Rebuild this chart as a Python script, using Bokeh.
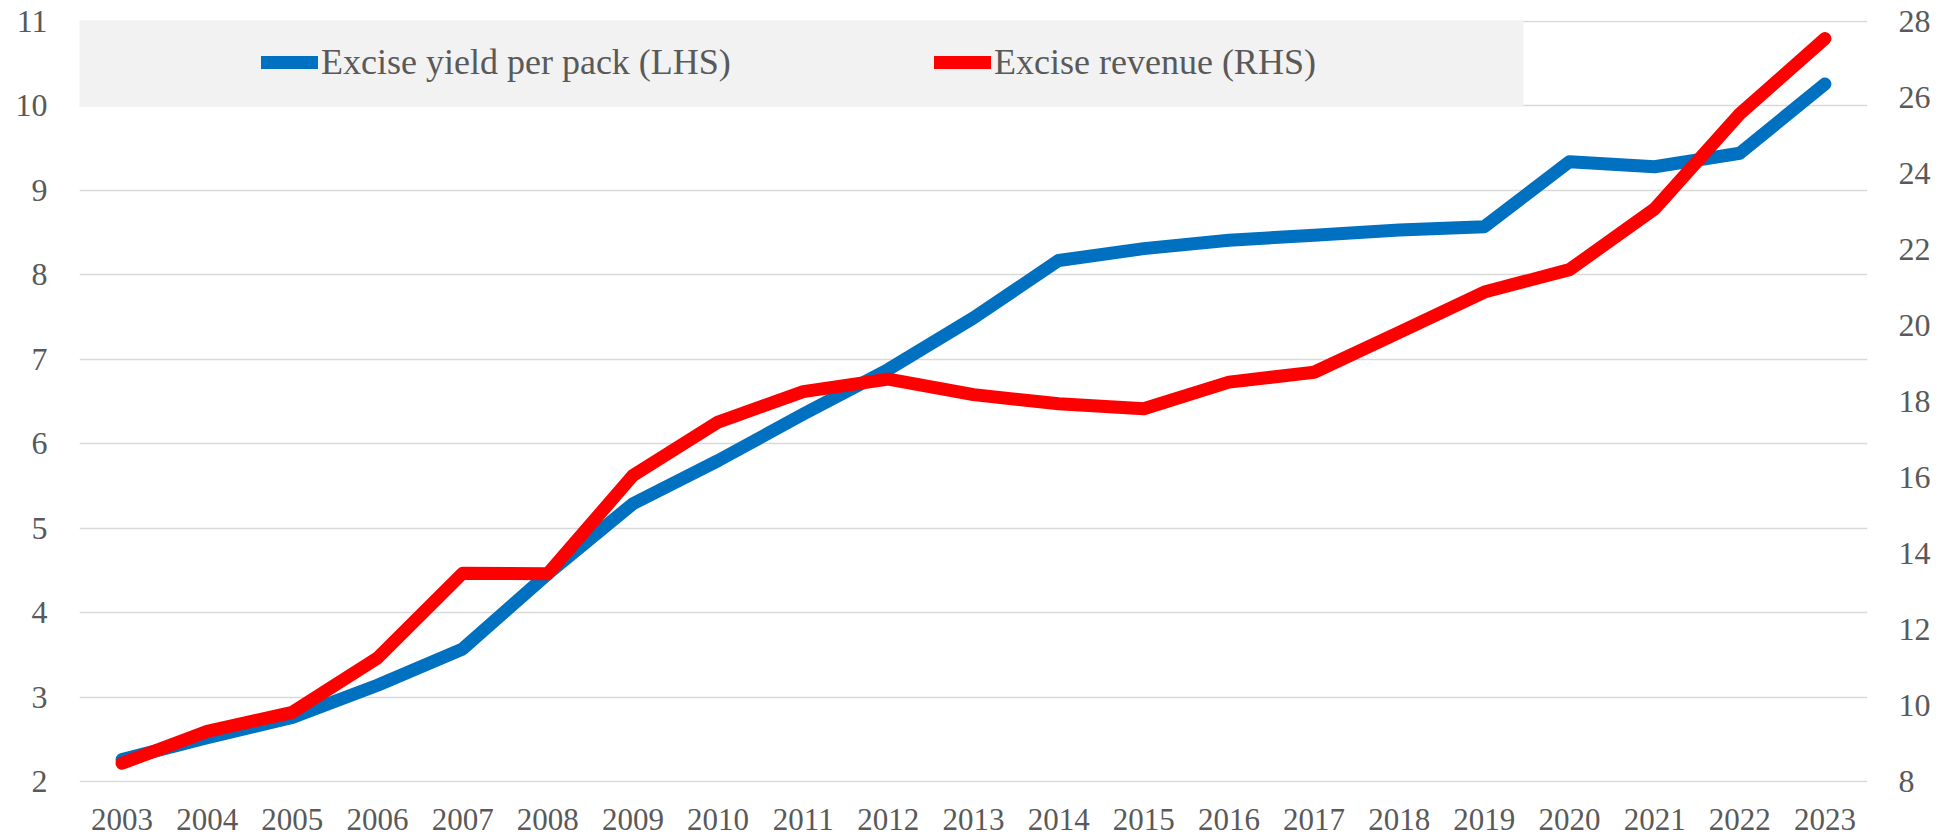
from bokeh.plotting import figure
from bokeh.models import (FactorRange, Range1d, LinearAxis, FixedTicker, Legend,
                          LegendItem, BoxAnnotation, ColumnDataSource)
from bokeh.embed import file_html
from bokeh.resources import INLINE

years = ["2003", "2004", "2005", "2006", "2007", "2008", "2009", "2010", "2011",
         "2012", "2013", "2014", "2015", "2016", "2017", "2018", "2019", "2020",
         "2021", "2022", "2023"]
yield_per_pack = [2.26, 2.52, 2.76, 3.14, 3.57, 4.46, 5.29, 5.80, 6.35, 6.88, 7.49,
                  8.17, 8.31, 8.41, 8.47, 8.53, 8.57, 9.34, 9.28, 9.44, 10.26]
excise_revenue = [8.48, 9.32, 9.82, 11.25, 13.48, 13.47, 16.05, 17.46, 18.26, 18.59,
                  18.18, 17.94, 17.81, 18.51, 18.77, 19.82, 20.88, 21.47, 23.07,
                  25.57, 27.55]
left_ticks = [2, 3, 4, 5, 6, 7, 8, 9, 10, 11]
right_ticks = [8, 10, 12, 14, 16, 18, 20, 22, 24, 26, 28]
labels = ["Excise yield per pack (LHS)", "Excise revenue (RHS)"]

FONT = "Liberation Serif"
TXT = "#595959"
GRID = "#d9d9d9"

# one extra pixel above and below the outer gridlines so they are not clipped
PX_L = 1.0 / 84.44
PX_R = 1.0 / 38.0

src = ColumnDataSource(dict(year=years, yld=yield_per_pack, rev=excise_revenue))

p = figure(width=1952, height=835, x_range=FactorRange(*years),
           y_range=Range1d(left_ticks[0] - PX_L, left_ticks[-1] + PX_L),
           output_backend="svg", toolbar_location=None,
           min_border_left=79, min_border_right=85, min_border_top=20,
           min_border_bottom=53)
p.extra_y_ranges = {"right": Range1d(right_ticks[0] - PX_R, right_ticks[-1] + PX_R)}
p.outline_line_color = None
p.background_fill_color = "white"
p.border_fill_color = "white"

# grid
p.xgrid.visible = False
p.ygrid.grid_line_color = GRID
p.ygrid.grid_line_width = 1.5
p.ygrid.ticker = FixedTicker(ticks=left_ticks)


def style_axis(ax, standoff, size="32px"):
    ax.axis_line_color = None
    ax.major_tick_line_color = None
    ax.minor_tick_line_color = None
    ax.major_tick_out = 0
    ax.major_tick_in = 0
    ax.major_label_standoff = standoff
    ax.major_label_text_font = FONT
    ax.major_label_text_font_size = size
    ax.major_label_text_color = TXT


style_axis(p.xaxis[0], 26, "31px")
p.yaxis[0].ticker = FixedTicker(ticks=left_ticks)
style_axis(p.yaxis[0], 32)

raxis = LinearAxis(y_range_name="right", ticker=FixedTicker(ticks=right_ticks))
style_axis(raxis, 31)
p.add_layout(raxis, "right")

# legend background
box = BoxAnnotation(left=-19, right=1444, top=763, bottom=676,
                    left_units="screen", right_units="screen",
                    top_units="screen", bottom_units="screen",
                    fill_color="#f2f2f2", fill_alpha=1, line_color=None,
                    level="annotation")
p.add_layout(box)

r1 = p.line(x="year", y="yld", source=src, line_color="#0070C0", line_width=13,
            line_cap="round", line_join="round")
r2 = p.line(x="year", y="rev", source=src, y_range_name="right",
            line_color="#FF0000", line_width=13, line_cap="round",
            line_join="round")

legend = Legend(items=[LegendItem(label=labels[0], renderers=[r1]),
                       LegendItem(label=labels[1], renderers=[r2])],
                orientation="horizontal", location=(182, 699), padding=0,
                spacing=0, margin=0, glyph_width=57, glyph_height=42,
                label_height=42, label_width=613, label_standoff=3,
                label_text_font=FONT, label_text_font_size="36px",
                label_text_color=TXT, background_fill_alpha=0,
                border_line_color=None)
p.add_layout(legend)

open("out.html", "w").write(file_html(p, INLINE))
